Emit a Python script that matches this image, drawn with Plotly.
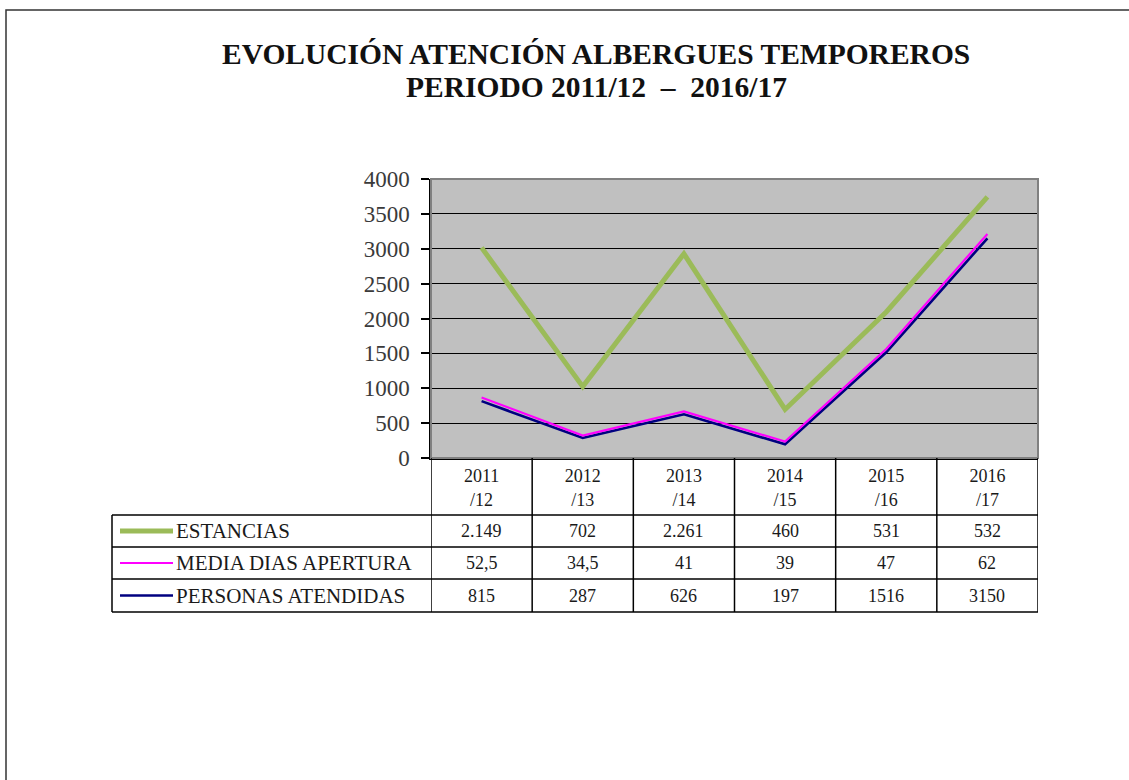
import plotly.graph_objects as go

# ---- data ----
categories = ["2011/12", "2012/13", "2013/14", "2014/15", "2015/16", "2016/17"]
estancias = [2149, 702, 2261, 460, 531, 532]
media_dias = [52.5, 34.5, 41, 39, 47, 62]
personas = [815, 287, 626, 197, 1516, 3150]
series_names = ["ESTANCIAS", "MEDIA DIAS APERTURA", "PERSONAS ATENDIDAS"]
y_ticks = [0, 500, 1000, 1500, 2000, 2500, 3000, 3500, 4000]
title_lines = ["EVOLUCIÓN ATENCIÓN ALBERGUES TEMPOREROS",
               "PERIODO 2011/12\u00a0\u00a0–\u00a0\u00a02016/17"]

# ---- style ----
W, H = 1129, 780
L, R, T, B = 431, 1038, 179, 458
SERIF = "Liberation Serif, Times New Roman, serif"
c_est, c_med, c_per = "#9BBB59", "#FF00FF", "#000080"


def xp(px):
    return (px - L) / (R - L)


def yp(py):
    return (B - py) / (B - T)


fig = go.Figure()
# stacked line chart (Excel style): first trace at the bottom
fig.add_trace(go.Scatter(x=categories, y=personas, name=series_names[2], stackgroup="s",
                         fill="none", mode="lines", line=dict(color=c_per, width=2.6)))
fig.add_trace(go.Scatter(x=categories, y=media_dias, name=series_names[1], stackgroup="s",
                         fill="none", mode="lines", line=dict(color=c_med, width=2.2)))
fig.add_trace(go.Scatter(x=categories, y=estancias, name=series_names[0], stackgroup="s",
                         fill="none", mode="lines", line=dict(color=c_est, width=5)))

shapes = []
annotations = []

# title (two lines)
for txt, ty in zip(title_lines, [54, 87]):
    annotations.append(dict(text=txt, xref="paper", yref="paper", x=xp(596), y=yp(ty),
                            xanchor="center", yanchor="middle", showarrow=False,
                            font=dict(family=SERIF, size=29.5, color="#111111", weight="bold")))

# outer frame (only top and left visible)
shapes.append(dict(type="rect", xref="paper", yref="paper", x0=xp(6), x1=xp(W + 20),
                   y0=yp(H + 20), y1=yp(10), line=dict(color="#333333", width=1.5), layer="below"))
# plot area border (grey)
shapes.append(dict(type="rect", xref="paper", yref="paper", x0=0, x1=1, y0=0, y1=1,
                   line=dict(color="#808080", width=2), layer="above"))

# table geometry (pixels)
row_lines = [515, 547, 579, 612]
table_left = 112
n = len(categories)
for ry in row_lines:
    shapes.append(dict(type="line", xref="paper", yref="paper", x0=xp(table_left), x1=1,
                       y0=yp(ry), y1=yp(ry), line=dict(color="black", width=1.5)))
shapes.append(dict(type="line", xref="paper", yref="paper", x0=xp(table_left), x1=xp(table_left),
                   y0=yp(row_lines[0]), y1=yp(row_lines[-1]), line=dict(color="black", width=1.5)))
for i in range(n + 1):
    shapes.append(dict(type="line", xref="x", yref="paper", x0=i - 0.5, x1=i - 0.5,
                       y0=yp(B), y1=yp(row_lines[-1]), line=dict(color="black", width=1.5)))

# rows: legend key + label + values
row_values = [
    [f"{v:,}".replace(",", ".") for v in estancias],
    [f"{v:g}".replace(".", ",") for v in media_dias],
    [f"{v}" for v in personas],
]
row_colors = [c_est, c_med, c_per]
row_widths = [5, 2, 2.5]
for r in range(3):
    cy = (row_lines[r] + row_lines[r + 1]) / 2
    shapes.append(dict(type="line", xref="paper", yref="paper", x0=xp(120), x1=xp(173),
                       y0=yp(cy), y1=yp(cy), line=dict(color=row_colors[r], width=row_widths[r])))
    annotations.append(dict(text=series_names[r], xref="paper", yref="paper", x=xp(174), y=yp(cy),
                            xanchor="left", yanchor="middle", showarrow=False,
                            font=dict(family=SERIF, size=21, color="#1a1a1a")))
    for i, cat in enumerate(categories):
        annotations.append(dict(text=row_values[r][i], xref="x", yref="paper", x=cat, y=yp(cy),
                                xanchor="center", yanchor="middle", showarrow=False,
                                font=dict(family=SERIF, size=18, color="#1a1a1a")))

fig.update_layout(
    width=W, height=H,
    margin=dict(l=L, r=W - R, t=T, b=H - B),
    paper_bgcolor="white",
    plot_bgcolor="#C0C0C0",
    showlegend=False,
    xaxis=dict(type="category", range=[-0.5, n - 0.5], showgrid=False, zeroline=False,
               showline=True, linecolor="black", linewidth=1.5,
               tickvals=categories, ticktext=[c.replace("/", "<br>/") for c in categories],
               ticks="", ticklabelstandoff=1,
               tickfont=dict(family=SERIF, size=18, color="#1a1a1a")),
    yaxis=dict(range=[0, 4000], tickvals=y_ticks, showgrid=True, gridcolor="black", gridwidth=1,
               zeroline=False, showline=True, linecolor="black", linewidth=1.5,
               ticks="outside", ticklen=8, tickcolor="black", tickwidth=1.5,
               ticklabelstandoff=7,
               tickfont=dict(family=SERIF, size=23, color="#3a3a3a")),
    shapes=shapes,
    annotations=annotations,
)

fig.write_html("out.html", config={"displayModeBar": False},
               post_script="document.body.style.margin='0';document.body.style.overflow='hidden';")
